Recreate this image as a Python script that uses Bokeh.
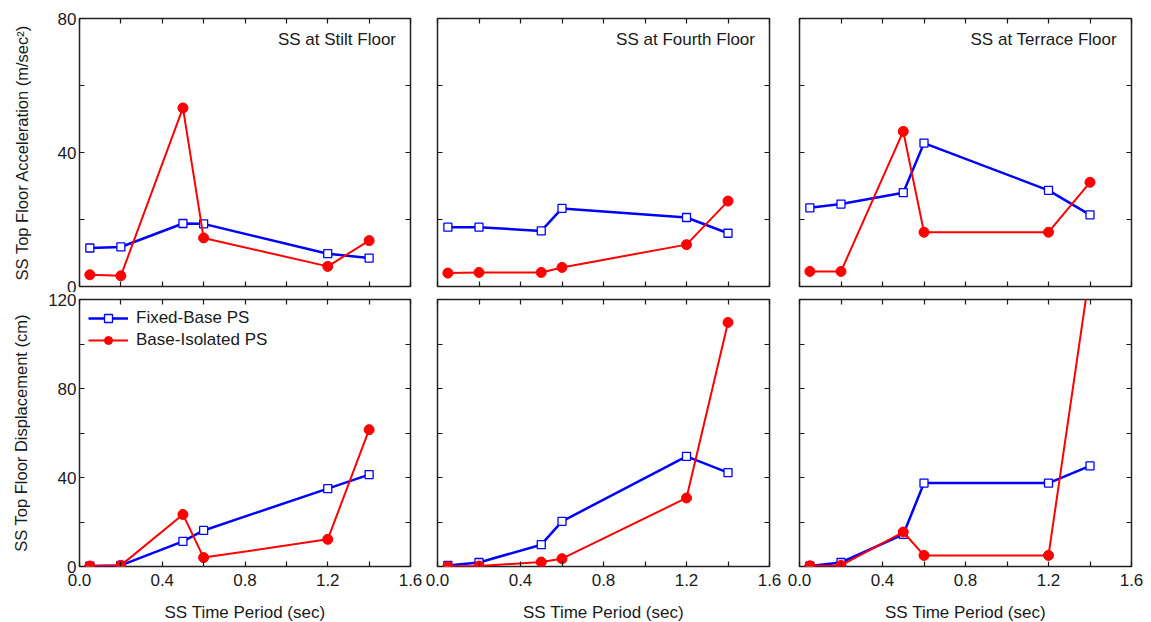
from bokeh.plotting import figure
from bokeh.layouts import gridplot
from bokeh.models import Range1d, LinearAxis, FixedTicker, PrintfTickFormatter, Label, CustomJSTickFormatter
from bokeh.embed import file_html
from bokeh.resources import INLINE

# ---------------- data ----------------
periods = [0.05, 0.2, 0.5, 0.6, 1.2, 1.4]

panel_titles = ["SS at Stilt Floor", "SS at Fourth Floor", "SS at Terrace Floor"]

acc_fixed_stilt = [11.5, 11.8, 18.8, 18.7, 9.8, 8.5]
acc_iso_stilt = [3.5, 3.2, 53.3, 14.5, 6.0, 13.7]
acc_fixed_fourth = [17.7, 17.7, 16.6, 23.3, 20.6, 15.9]
acc_iso_fourth = [4.0, 4.2, 4.2, 5.7, 12.5, 25.5]
acc_fixed_terrace = [23.5, 24.6, 28.0, 42.8, 28.7, 21.4]
acc_iso_terrace = [4.5, 4.5, 46.3, 16.2, 16.2, 31.1]

disp_fixed_stilt = [0.2, 0.5, 11.3, 16.2, 35.0, 41.3]
disp_iso_stilt = [0.2, 0.5, 23.4, 4.0, 12.2, 61.5]
disp_fixed_fourth = [0.5, 1.8, 9.8, 20.3, 49.5, 42.2]
disp_iso_fourth = [0.0, 0.2, 2.0, 3.5, 30.8, 109.7]
disp_fixed_terrace = [0.2, 1.8, 14.4, 37.5, 37.5, 45.2]
disp_iso_terrace = [0.3, 0.5, 15.5, 5.0, 5.0, 133.0]

x_ticks = [0.0, 0.4, 0.8, 1.2, 1.6]
x_minor = [0.2, 0.6, 1.0, 1.4]
acc_ticks = [0, 40, 80]
acc_minor = [20, 60]
disp_ticks = [0, 40, 80, 120]
disp_minor = [20, 60, 100]

series_labels = ["Fixed-Base PS", "Base-Isolated PS"]
y_labels = ["SS Top Floor Acceleration (m/sec\u00b2)", "SS Top Floor Displacement (cm)"]
x_label = "SS Time Period (sec)"

# ---------------- style ----------------
FONT = "Liberation Sans"
TXT = "#1a1a1a"
BLUE = "#0000ff"
RED = "#ff0000"

FW = [331, 332, 332]
FH = [268, 267]
BL = [79, 14, 15]
BR = [13, 15, 12]
BT = [18, 7]
BB = [6, 54]


def style_axis(ax, ticks, minor, show_labels, fmt=None, standoff=3):
    ax.ticker = FixedTicker(ticks=ticks, minor_ticks=minor)
    ax.major_tick_in = 5
    ax.major_tick_out = 0
    ax.minor_tick_in = 5
    ax.minor_tick_out = 0
    ax.major_tick_line_color = TXT
    ax.minor_tick_line_color = TXT
    ax.major_tick_line_width = 1.2
    ax.minor_tick_line_width = 1.2
    ax.axis_line_color = None
    if show_labels:
        ax.major_label_text_font = FONT
        ax.major_label_text_font_size = "17px"
        ax.major_label_text_color = TXT
        ax.major_label_standoff = standoff
        if fmt:
            ax.formatter = PrintfTickFormatter(format=fmt)
    else:
        ax.formatter = CustomJSTickFormatter(code="return '';")
        ax.major_label_text_font_size = "1px"
        ax.major_label_standoff = 0


data = [
    [(acc_fixed_stilt, acc_iso_stilt), (acc_fixed_fourth, acc_iso_fourth), (acc_fixed_terrace, acc_iso_terrace)],
    [(disp_fixed_stilt, disp_iso_stilt), (disp_fixed_fourth, disp_iso_fourth), (disp_fixed_terrace, disp_iso_terrace)],
]

rows = []
for r in range(2):
    row = []
    ymax = 80 if r == 0 else 120
    yt, ym = (acc_ticks, acc_minor) if r == 0 else (disp_ticks, disp_minor)
    for c in range(3):
        p = figure(
            frame_width=FW[c], frame_height=FH[r],
            min_border_left=BL[c], min_border_right=BR[c],
            min_border_top=BT[r], min_border_bottom=BB[r],
            x_range=Range1d(0, 1.6), y_range=Range1d(0, ymax),
            output_backend="svg", toolbar_location=None,
        )
        p.grid.visible = False
        p.outline_line_color = "#222222"
        p.outline_line_width = 1.5
        p.background_fill_color = "white"
        p.border_fill_color = "white"

        bottom = p.below[0]
        left = p.left[0]
        style_axis(bottom, x_ticks, x_minor, r == 1, "%.1f", standoff=7)
        style_axis(left, yt, ym, c == 0, "%d", standoff=3)
        top = LinearAxis()
        style_axis(top, x_ticks, x_minor, False)
        p.add_layout(top, "above")
        right = LinearAxis()
        style_axis(right, yt, ym, False)
        p.add_layout(right, "right")

        if r == 1:
            bottom.axis_label = x_label
            bottom.axis_label_text_font = FONT
            bottom.axis_label_text_font_size = "17px"
            bottom.axis_label_text_font_style = "normal"
            bottom.axis_label_text_color = TXT
            bottom.axis_label_standoff = 14
        if c == 0:
            left.axis_label = y_labels[r]
            left.axis_label_text_font = FONT
            left.axis_label_text_font_size = "16.5px"
            left.axis_label_text_font_style = "normal"
            left.axis_label_text_color = TXT
            left.axis_label_standoff = 24 if r == 0 else 15

        fixed, iso = data[r][c]
        kw_f = {}
        kw_i = {}
        if r == 1 and c == 0:
            kw_f = dict(legend_label=series_labels[0])
            kw_i = dict(legend_label=series_labels[1])
        p.line(periods, fixed, line_color=BLUE, line_width=2.5, **kw_f)
        p.scatter(periods, fixed, marker="square", size=8, line_color=BLUE,
                  fill_color="white", line_width=1.3, **kw_f)
        p.line(periods, iso, line_color=RED, line_width=2, **kw_i)
        p.scatter(periods, iso, marker="circle", size=10, line_color=RED,
                  fill_color=RED, **kw_i)

        if r == 0:
            p.add_layout(Label(x=1.53, y=73.7, text=panel_titles[c], text_align="right",
                               text_baseline="middle", text_font=FONT,
                               text_font_size="17px", text_color=TXT))
        if r == 1 and c == 0:
            lg = p.legend[0]
            lg.location = "top_left"
            lg.border_line_color = None
            lg.background_fill_alpha = 0
            lg.label_text_font = FONT
            lg.label_text_font_size = "17px"
            lg.label_text_color = TXT
            lg.glyph_width = 40
            lg.glyph_height = 20
            lg.label_height = 20
            lg.spacing = 2
            lg.padding = 5
            lg.margin = 9
            lg.label_standoff = 8
        row.append(p)
    rows.append(row)

grid = gridplot(rows, toolbar_location=None)

open("out.html", "w").write(file_html(grid, INLINE))
